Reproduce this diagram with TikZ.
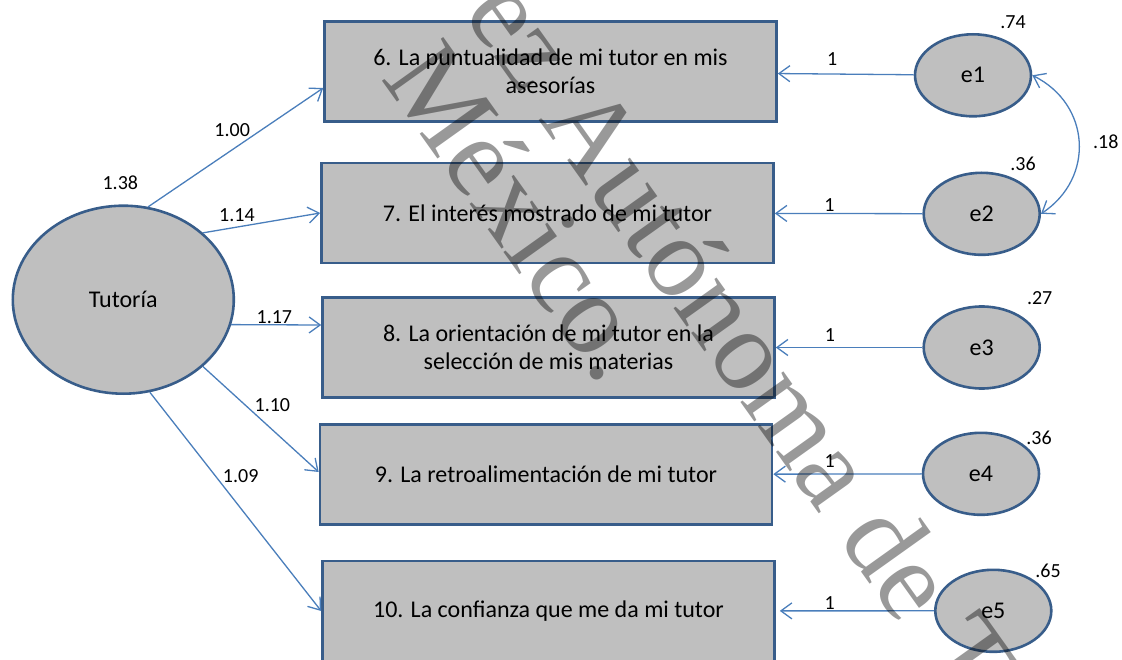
\documentclass[tikz,border=0pt]{standalone}
\usepackage{fontspec}
\setmainfont{Carlito}
\newfontfamily\filigrane{Liberation Serif}
\usetikzlibrary{calc}
\usetikzlibrary{shapes.geometric,arrows.meta}
\definecolor{bordbleu}{HTML}{385D8A}
\definecolor{flechebleu}{HTML}{4A7EBB}
\definecolor{grisfond}{HTML}{BFBFBF}
\tikzset{item/.style={draw=bordbleu, line width=2.6pt, fill=grisfond,
    minimum width=452pt, minimum height=100pt, inner sep=0pt, align=center,
    font=\fontsize{24}{28}\selectfont},
  latente/.style={ellipse, draw=bordbleu, line width=2.6pt, fill=grisfond,
    inner sep=0pt, font=\fontsize{24}{28}\selectfont},
  erreur/.style={latente, minimum width=116pt, minimum height=82pt},
  fleche/.style={draw=flechebleu, line width=1.3pt,
    -{Straight Barb[length=11pt,width=16pt]}},
  coef/.style={font=\fontsize{20}{24}\selectfont, inner sep=1pt},
  marque/.style={font=\filigrane\fontsize{115}{115}\selectfont, text=black,
    text opacity=0.4, inner sep=0pt, rotate=-54.5, anchor=base west}}

\begin{document}
\begin{tikzpicture}[x=1pt, y=-1pt]
\clip (0,0) rectangle (1122,660);

%%% items
\node[item] (b1) at (550.5,71.5) {6. La puntualidad de mi tutor en mis\\asesorías};
\node[item] (b2) at (547.5,213) {7. El interés mostrado de mi tutor};
\node[item] (b3) at (548.5,347.5) {8. La orientación de mi tutor en la\\selección de mis materias};
\node[item] (b4) at (546,474.5) {9. La retroalimentación de mi tutor};
\node[item] (b5) at (548.5,611) {10. La confianza que me da mi tutor};

%%% variable latente
\node[latente, minimum width=221pt, minimum height=188pt] (tut) at (123.3,299.7) {Tutoría};
\node[coef] (v0) at ($(tut)+(-3,-116.7)$) {1.38};

%%% erreurs
\node[erreur] (e1) at (973,75.3) {e1};
\node[erreur] (e2) at (981.7,213.8) {e2};
\node[erreur] (e3) at (981.7,347.5) {e3};
\node[erreur] (e4) at (981,473.8) {e4};
\node[erreur] (e5) at (993.3,610.8) {e5};

% variances
\node[coef] (v1) at ($(e1)+(40,-53.3)$) {.74};
\node[coef] (v2) at ($(e2)+(41.3,-49.8)$) {.36};
\node[coef] (v3) at ($(e3)+(58,-49.5)$) {.27};
\node[coef] (v4) at ($(e4)+(58,-35.8)$) {.36};
\node[coef] (v5) at ($(e5)+(54.7,-39.8)$) {.65};

%%% cargas
\draw[fleche] (tut.75) -- node[coef, pos=0.48, yshift=20pt] {1.00} ([yshift=-16.5pt]b1.west);
\draw[fleche] (tut.40) -- node[coef, pos=0.29, yshift=11.5pt] {1.14} (b2.west);
\draw[fleche] (tut.347) -- node[coef, pos=0.48, yshift=8pt] {1.17} ([yshift=22.5pt]b3.west);
\draw[fleche] (tut.320) -- node[coef, pos=0.6, yshift=24.5pt] {1.10} ([yshift=2.5pt]b4.west);
\draw[fleche] (tut.286.5) -- node[coef, pos=0.53, yshift=32pt] {1.09} (b5.west);

% erreurs -> items
\draw[fleche] (e1) -- node[coef, pos=0.6, yshift=15pt] {1} (b1);
\draw[fleche] (e2) -- node[coef, pos=0.63, yshift=8.5pt] {1} (b2);
\draw[fleche] (e3) -- node[coef, pos=0.63, yshift=12.5pt] {1} (b3);
\draw[fleche] (e4) -- node[coef, pos=0.62, yshift=12.5pt] {1} (b4);
\draw[fleche, shorten >=4pt] (e5) -- node[coef, pos=0.66, yshift=8pt] {1} (b5);

% covariance
\draw[fleche, {Straight Barb[length=11pt,width=16pt]}-{Straight Barb[length=11pt,width=16pt]}]
  (e1.east) to[bend left=60, looseness=1.2] node[coef, pos=0.5, xshift=27pt] {.18} (e2.east);

%%% filigrane
\node[marque] (wm1) at (462.6,13) {ez Autónoma de T};
\node[marque] (wm2) at (380.4,78.5) {México.};
\end{tikzpicture}
\end{document}
